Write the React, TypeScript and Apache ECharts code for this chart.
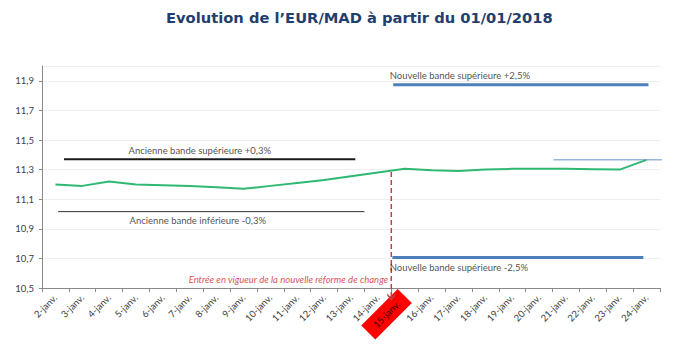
import React, { useEffect, useRef } from "react";
import * as echarts from "echarts";

const categories = [
  "2-janv.", "3-janv.", "4-janv.", "5-janv.", "6-janv.", "7-janv.", "8-janv.", "9-janv.",
  "10-janv.", "11-janv.", "12-janv.", "13-janv.", "14-janv.", "15-janv.", "16-janv.",
  "17-janv.", "18-janv.", "19-janv.", "20-janv.", "21-janv.", "22-janv.", "23-janv.", "24-janv.",
];
const eurMad = [
  11.20, 11.19, 11.22, 11.20, 11.195, 11.19, 11.18, 11.17, 11.19, 11.21, 11.23, 11.255,
  11.28, 11.305, 11.295, 11.29, 11.30, 11.305, 11.305, 11.305, 11.303, 11.30, 11.366,
];
const highlightCategory = "15-janv.";

// horizontal bands: [xStart, y], [xEnd, y] in category units
const oldUpperBand = [[0.82, 11.37], [11.66, 11.37]];
const oldLowerBand = [[0.6, 11.016], [12.0, 11.016]];
const newUpperBand = [[13.07, 11.873], [22.57, 11.873]];
const newLowerBand = [[13.04, 10.706], [22.38, 10.706]];
const lastLevel = [[19.03, 11.366], [23.43, 11.366]];
const reformLine = [[13.0, 11.283], [13.0, 10.44]];

const annotations = [
  { text: "Ancienne bande supérieure +0,3%", x: 3.2, y: 11.431, color: "#222222", italic: false },
  { text: "Ancienne bande inférieure -0,3%", x: 3.24, y: 10.953, color: "#222222", italic: false },
  { text: "Nouvelle bande supérieure +2,5%", x: 12.92, y: 11.938, color: "#222222", italic: false },
  { text: "Nouvelle bande supérieure -2,5%", x: 12.92, y: 10.637, color: "#222222", italic: false },
  { text: "Entrée en vigueur de la nouvelle réforme de change", x: 5.44, y: 10.556, color: "#d0202e", italic: true },
];

const yMin = 10.5;
const yMax = 12.0;
const yStep = 0.2;

export default function App() {
  const ref = useRef<HTMLDivElement>(null);
  useEffect(() => {
    if (!ref.current) return;
    const chart = echarts.init(ref.current, null, { renderer: "svg" });
    const seg = (data: number[][], color: string, width: number, z = 3) => ({
      type: "line",
      xAxisIndex: 1,
      data,
      symbol: "none",
      clip: false,
      silent: true,
      z,
      lineStyle: { color, width },
    });
    const labelFont = "Lato, 'Open Sans', sans-serif";
    chart.setOption({
      animation: false,
      title: {
        text: "Evolution de l\u2019EUR/MAD à partir du 01/01/2018",
        left: 161,
        top: 5,
        textStyle: { fontFamily: "'DejaVu Sans', Verdana, sans-serif", fontWeight: "bold", fontSize: 14.7, color: "#1f3f6e" },
      },
      grid: { left: 42, right: 34, top: 66, bottom: 59 },
      xAxis: [
        {
          type: "category",
          data: categories,
          boundaryGap: true,
          axisLine: { lineStyle: { color: "#8a8a8a" } },
          axisTick: { show: true, alignWithLabel: false, length: 4, lineStyle: { color: "#8a8a8a" } },
          axisLabel: {
            interval: 0,
            rotate: 45,
            margin: 8,
            fontSize: 9.5,
            fontFamily: labelFont,
            color: "#404040",
            formatter: (v: string) => (v === highlightCategory ? "{hl|" + v + "}" : v),
            rich: {
              hl: { backgroundColor: "#ff0000", color: "#3a0000", padding: [5, 9], fontSize: 9.5, fontFamily: labelFont },
            },
          },
          splitLine: { show: false },
        },
        { type: "value", min: 0, max: 23, show: false },
      ],
      yAxis: {
        type: "value",
        min: yMin,
        max: yMax,
        interval: yStep,
        axisLine: { show: true, lineStyle: { color: "#8a8a8a" } },
        axisTick: { show: true, length: 3, lineStyle: { color: "#8a8a8a" } },
        axisLabel: {
          showMaxLabel: false,
          fontSize: 9.5,
          fontFamily: labelFont,
          color: "#404040",
          margin: 8,
          formatter: (v: number) => v.toFixed(1).replace(".", ","),
        },
        splitLine: { lineStyle: { color: "#efefef" } },
      },
      series: [
        seg(oldUpperBand, "#1a1a1a", 2),
        seg(oldLowerBand, "#333333", 1),
        seg(newUpperBand, "#4f7fba", 3),
        seg(newLowerBand, "#4f7fba", 3),
        seg(lastLevel, "#9ab6de", 1.5),
        {
          type: "line",
          xAxisIndex: 0,
          data: eurMad,
          symbol: "none",
          z: 5,
          lineStyle: { color: "#2fb872", width: 2 },
        },
        {
          type: "line",
          xAxisIndex: 1,
          clip: false,
          z: 6,
          data: [
            { value: reformLine[0], symbol: "none" },
            { value: reformLine[1], symbol: "path://M0,0 L5,5 L10,0 L10,2.5 L5,7.5 L0,2.5 Z", symbolSize: [8, 7] },
          ],
          showSymbol: true,
          itemStyle: { color: "#c0404a" },
          lineStyle: { color: "#c0404a", width: 1.5, type: [5, 3] },
        },
        {
          type: "scatter",
          xAxisIndex: 1,
          clip: false,
          symbol: "circle",
          symbolSize: 1,
          itemStyle: { color: "rgba(255,255,255,0)" },
          z: 7,
          data: annotations.map((a) => ({
            value: [a.x, a.y],
            label: {
              show: true,
              position: "right",
              distance: 0,
              formatter: a.text,
              fontSize: 9.5,
              fontFamily: labelFont,
              fontStyle: a.italic ? "italic" : "normal",
              color: a.color,
            },
          })),
        },
      ],
    });
    return () => chart.dispose();
  }, []);
  return <div ref={ref} style={{ position: "fixed", left: 0, top: 0, width: 694, height: 347, background: "#fff" }} />;
}
